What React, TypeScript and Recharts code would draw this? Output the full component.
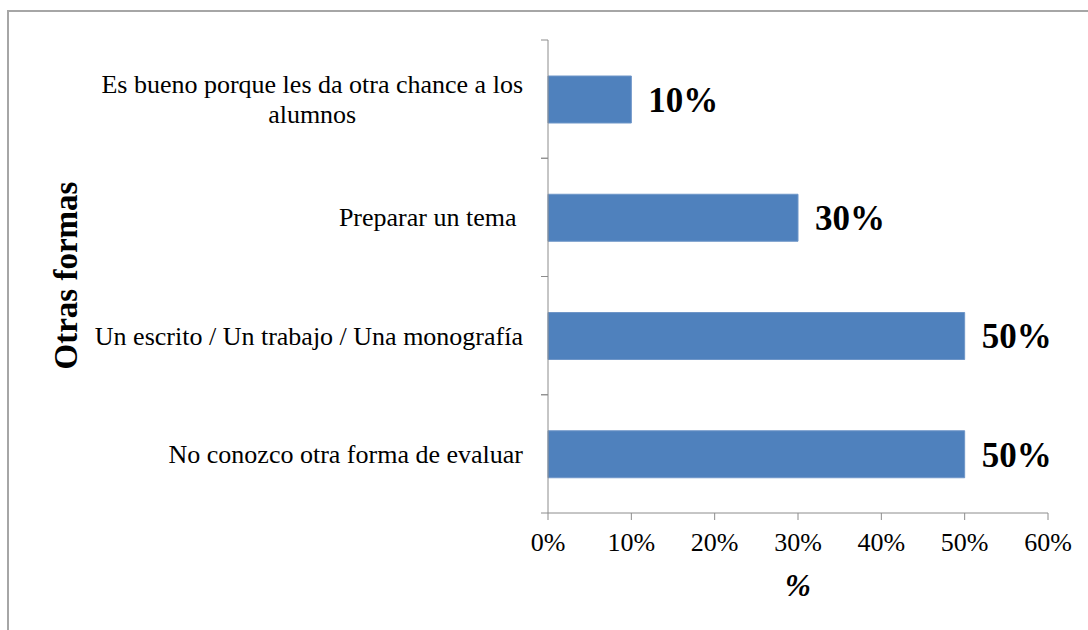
import React from "react";
import {
  BarChart,
  Bar,
  XAxis,
  YAxis,
  LabelList,
} from "recharts";

const categories = [
  "Es bueno porque les da otra chance a los alumnos",
  "Preparar un tema ",
  "Un escrito / Un trabajo / Una monografía",
  "No conozco otra forma de evaluar",
];
const values = [10, 30, 50, 50];
const xTicks = [0, 10, 20, 30, 40, 50, 60];

const W = 1088;
const H = 630;
const X_AXIS_H = 60;
const MARGIN = { top: 40, right: 40, bottom: 117 - X_AXIS_H, left: 0 };
const Y_AXIS_W = 548;
const FONT = "'Liberation Serif', 'Times New Roman', serif";
const AXIS_GRAY = "#8c8c8c";
const BAR_BLUE = "#4f81bd";
const BAND = (H - MARGIN.top - MARGIN.bottom - X_AXIS_H) / categories.length;

const chartData = categories.map((name, i) => ({ name, value: values[i] }));

let ctx: CanvasRenderingContext2D | null = null;
const measure = (s: string) => {
  if (!ctx) {
    ctx = document.createElement("canvas").getContext("2d");
    if (ctx) ctx.font = "26px 'Liberation Serif'";
  }
  return ctx ? ctx.measureText(s).width : s.length * 11;
};

const wrap = (label: string, maxW: number) => {
  const words = label.split(" ");
  const lines: string[] = [];
  let cur = "";
  words.forEach((w) => {
    const next = cur ? cur + " " + w : w;
    if (cur && measure(next) > maxW) {
      lines.push(cur);
      cur = w;
    } else {
      cur = next;
    }
  });
  if (cur) lines.push(cur);
  return lines;
};

// labels centred on the band, tick marks drawn on band edges like Excel
const CategoryTick = (props: any) => {
  const { x, y, payload } = props;
  const lines = wrap(payload.value, 440);
  const widest = Math.max(...lines.map((l) => measure(l)));
  const cx = x - widest / 2;
  const lh = 30;
  const axisX = x + 25;
  return (
    <g>
      {lines.map((l, i) => (
        <text
          key={i}
          x={lines.length > 1 ? cx : x}
          y={y + (i - (lines.length - 1) / 2) * lh}
          dy="0.35em"
          textAnchor={lines.length > 1 ? "middle" : "end"}
          fontFamily={FONT}
          fontSize={26}
          fill="#000"
          style={{ whiteSpace: "pre" }}
        >
          {l}
        </text>
      ))}
      <line x1={axisX - 7} x2={axisX} y1={y - BAND / 2} y2={y - BAND / 2} stroke={AXIS_GRAY} />
      <line x1={axisX - 7} x2={axisX} y1={y + BAND / 2} y2={y + BAND / 2} stroke={AXIS_GRAY} />
    </g>
  );
};

const ValueLabel = (props: any) => {
  const { x, y, width, height, value } = props;
  return (
    <text
      x={x + width + 17}
      y={y + height / 2}
      dy="0.35em"
      fontFamily={FONT}
      fontWeight="bold"
      fontSize={35}
      fill="#000"
    >
      {value}%
    </text>
  );
};

export default function App() {
  return (
    <div style={{ position: "absolute", left: 0, top: 0, width: W, height: H, background: "#fff", overflow: "hidden" }}>
      <div
        style={{
          position: "absolute",
          left: 7,
          top: 10,
          width: W,
          height: H,
          borderLeft: "2px solid #a6a6a6",
          borderTop: "2px solid #a6a6a6",
        }}
      />
      <div style={{ position: "absolute", left: 0, top: 0 }}>
        <BarChart
          width={W}
          height={H}
          data={chartData}
          layout="vertical"
          margin={MARGIN}
          barSize={47}
        >
          <XAxis
            type="number"
            domain={[0, 60]}
            ticks={xTicks}
            interval={0}
            tickFormatter={(v) => `${v}%`}
            stroke={AXIS_GRAY}
            tickSize={7}
            tickMargin={13}
            tick={{ fontFamily: FONT, fontSize: 26, fill: "#000" }}
            height={X_AXIS_H}
            label={{
              content: (p: any) => (
                <text
                  x={p.viewBox.x + p.viewBox.width / 2}
                  y={p.viewBox.y + 83}
                  textAnchor="middle"
                  fontFamily={FONT}
                  fontWeight="bold"
                  fontStyle="italic"
                  fontSize={31}
                  fill="#000"
                >
                  %
                </text>
              ),
            }}
          />
          <YAxis
            type="category"
            dataKey="name"
            width={Y_AXIS_W}
            stroke={AXIS_GRAY}
            tickLine={false}
            tickSize={7}
            tickMargin={18}
            interval={0}
            tick={<CategoryTick />}
            label={{
              content: (p: any) => {
                const cy = p.viewBox.y + p.viewBox.height / 2 - 1;
                return (
                  <text
                    x={77}
                    y={cy}
                    transform={`rotate(-90 77 ${cy})`}
                    textAnchor="middle"
                    fontFamily={FONT}
                    fontWeight="bold"
                    fontSize={33}
                    fill="#000"
                  >
                    Otras formas
                  </text>
                );
              },
            }}
          />
          <Bar dataKey="value" fill={BAR_BLUE} stroke="#6f96c8" strokeWidth={1} isAnimationActive={false}>
            <LabelList dataKey="value" content={<ValueLabel />} />
          </Bar>
        </BarChart>
      </div>
    </div>
  );
}
